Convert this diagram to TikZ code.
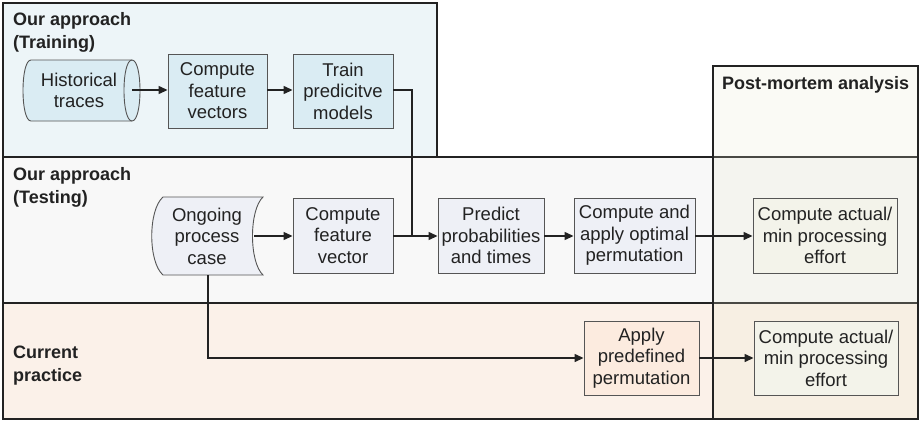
\documentclass[tikz,border=0pt]{standalone}
\usepackage{fontspec}
\setmainfont{Liberation Sans}
\usetikzlibrary{arrows.meta}
\definecolor{lanetrain}{HTML}{EDF5F8}
\definecolor{lanetest}{HTML}{F8F8F8}
\definecolor{lanecur}{HTML}{FBF1E9}
\definecolor{pmfill}{HTML}{E8E8CC}
\definecolor{nodetrain}{HTML}{DAECF3}
\definecolor{nodetest}{HTML}{EEF0F6}
\definecolor{nodecur}{HTML}{FCEBDF}
\definecolor{nodepm}{HTML}{F3F3EA}
\definecolor{ink}{HTML}{222222}
\definecolor{edge}{HTML}{555555}
\begin{document}
\begin{tikzpicture}[x=1pt,y=-1pt,
  lane/.style={draw=ink,line width=1.3pt},
  lanelabel/.style={anchor=north west,align=left,inner sep=0pt,text=ink,
    font=\fontsize{18}{23}\selectfont\bfseries},
  proc/.style={draw=edge,line width=0.9pt,align=center,inner sep=0pt,text=ink,
    font=\fontsize{18.5}{21.5}\selectfont},
  conn/.style={draw=ink,line width=1.3pt},
  arr/.style={conn,-{Triangle[length=9pt,width=8pt]}}
]
\useasboundingbox (0,0) rectangle (920,421);
% lanes
\draw[lane,fill=lanetrain] (3,3) rectangle (437,157);
\draw[lane,fill=lanetest] (3,157) rectangle (918,303);
\draw[lane,fill=lanecur] (3,303) rectangle (918,419);
\fill[pmfill,fill opacity=0.2] (713,66) rectangle (918,419);
\draw[lane] (713,66) rectangle (918,419);
% lane labels
\node[lanelabel] (ltrain) at (13,12) {Our approach\\(Training)};
\node[lanelabel] (ltest) at (13,167) {Our approach\\(Testing)};
\node[lanelabel] (lcur) at (13,346) {Current\\practice};
\node[lanelabel] (lpm) at (722,76) {Post-mortem analysis};
% historical traces (cylinder)
\path[draw=edge,line width=0.9pt,fill=nodetrain]
  (31,60) -- (132,60) .. controls (142.7,60) and (142.7,121) .. (132,121)
  -- (31,121) .. controls (20.3,121) and (20.3,60) .. (31,60) -- cycle;
\draw[edge,line width=0.9pt] (132,60) .. controls (121.3,60) and (121.3,121) .. (132,121);
\node[proc,draw=none,minimum width=117pt,minimum height=61pt] (ht) at (79,90.5) {Historical\\traces};
\coordinate (htc) at (132,90);
% ongoing process case (stored data)
\path[draw=edge,line width=0.9pt,fill=nodetest]
  (163,197) -- (263,197) .. controls (249,210) and (249,262) .. (263,275)
  -- (163,275) .. controls (148,262) and (148,210) .. (163,197) -- cycle;
\node[proc,draw=none,minimum width=100pt,minimum height=78pt] (opc) at (207,236) {Ongoing\\process\\case};
\coordinate (opcr) at (254,236);
\coordinate (opcb) at (208,275);
% process nodes
\node[proc,fill=nodetrain,minimum width=99pt,minimum height=74pt] (cfvs) at (217.5,91) {Compute\\feature\\vectors};
\node[proc,fill=nodetrain,minimum width=100pt,minimum height=74pt] (tpm) at (343,91) {Train\\predicitve\\models};
\node[proc,fill=nodetest,minimum width=100pt,minimum height=75pt] (cfv) at (343,235.5) {Compute\\feature\\vector};
\node[proc,fill=nodetest,minimum width=106pt,minimum height=75pt] (pred) at (491,235.5) {Predict\\probabilities\\and times};
\node[proc,fill=nodetest,minimum width=121pt,minimum height=75pt] (cao) at (634.5,235.5) {Compute and\\apply optimal\\permutation};
\node[proc,fill=nodepm,minimum width=144pt,minimum height=75pt] (caa1) at (825,235.5) {Compute actual/\\min processing\\effort};
\node[proc,fill=nodecur,minimum width=115pt,minimum height=74pt] (apd) at (641.5,358) {Apply\\predefined\\permutation};
\node[proc,fill=nodepm,minimum width=144pt,minimum height=74pt] (caa2) at (826,358) {Compute actual/\\min processing\\effort};
% connectors
\coordinate (jn) at (412,236);
\draw[arr] (htc) -- (cfvs.west |- htc);
\draw[arr] (cfvs.east |- htc) -- (tpm.west |- htc);
\draw[conn] (tpm.east |- htc) -| (jn);
\draw[arr] (opcr) -- (cfv.west |- opcr);
\draw[arr] (cfv.east |- opcr) -- (pred.west |- opcr);
\draw[arr] (pred.east |- opcr) -- (cao.west |- opcr);
\draw[arr] (cao.east |- opcr) -- (caa1.west |- opcr);
\draw[arr] (opcb) |- (apd.west);
\draw[arr] (apd.east) -- (caa2.west);
\end{tikzpicture}
\end{document}
